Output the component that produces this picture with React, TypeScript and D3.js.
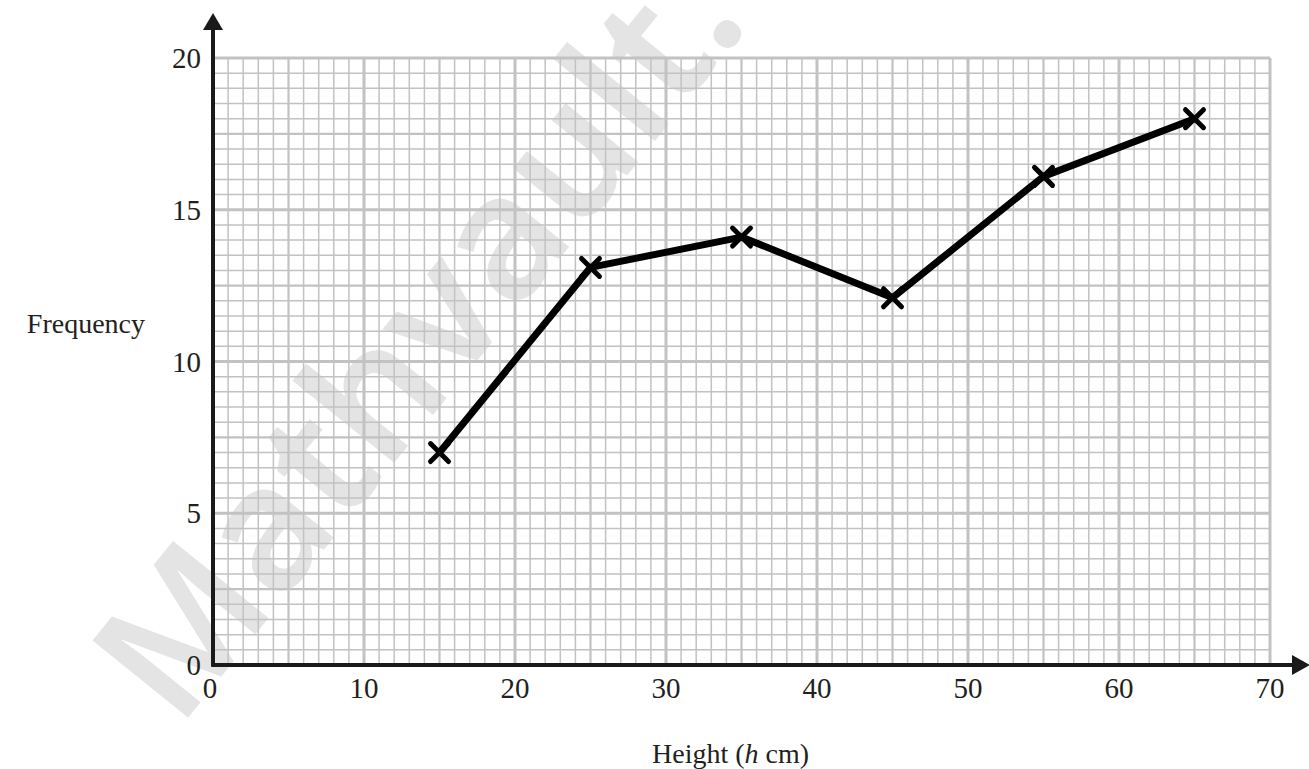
import React, { useEffect, useRef } from 'react';
import * as d3 from 'd3';

// polygon points: mid-height (cm) and frequency
const heights = [15, 25, 35, 45, 55, 65];
const frequencies = [7, 13.1, 14.1, 12.1, 16.1, 18];

const xTicks = [0, 10, 20, 30, 40, 50, 60, 70];
const yTicks = [0, 5, 10, 15, 20];

const WIDTH = 1309;
const HEIGHT = 769;

const App: React.FC = () => {
  const svgRef = useRef<SVGSVGElement | null>(null);

  useEffect(() => {
    if (!svgRef.current) return;
    const svg = d3.select(svgRef.current);
    svg.selectAll('*').remove();

    const x = d3.scaleLinear().domain([0, 70]).range([213, 1270]);
    const y = d3.scaleLinear().domain([0, 20]).range([665, 58]);

    // watermark
    svg
      .append('text')
      .attr('transform', 'translate(178,730) rotate(-51)')
      .attr('font-family', 'Noto Sans, sans-serif')
      .attr('font-weight', 600)
      .attr('font-size', 172)
      .attr('fill', '#e4e4e4')
      .text('Mathvault.');

    const grid = svg.append('g').attr('stroke', '#c2c2c2').attr('fill', 'none');

    // vertical lines every 1 cm
    d3.range(0, 71, 1).forEach((v) => {
      const w = v % 10 === 0 ? 3 : v % 5 === 0 ? 2.2 : 1.5;
      grid.append('line').attr('x1', x(v)).attr('x2', x(v)).attr('y1', y(0)).attr('y2', y(20)).attr('stroke-width', w);
    });
    // horizontal lines every 0.5
    d3.range(0, 41, 1).forEach((k) => {
      const v = k / 2;
      const w = k % 10 === 0 ? 3 : k % 5 === 0 ? 2.2 : 1.5;
      grid.append('line').attr('x1', x(0)).attr('x2', x(70)).attr('y1', y(v)).attr('y2', y(v)).attr('stroke-width', w);
    });

    // axes with arrows
    const axis = svg.append('g');
    axis.append('line').attr('x1', x(0)).attr('x2', x(0)).attr('y1', y(0) + 1.5).attr('y2', 28).attr('stroke', '#1a1a1a').attr('stroke-width', 4);
    axis.append('path').attr('d', `M${x(0)},13 L${x(0) - 10},30 L${x(0) + 10},30 Z`).attr('fill', '#1a1a1a');
    axis.append('line').attr('x1', x(0) - 1.5).attr('x2', 1294).attr('y1', y(0)).attr('y2', y(0)).attr('stroke', '#1a1a1a').attr('stroke-width', 4);
    axis.append('path').attr('d', `M1310,${y(0)} L1292,${y(0) - 10} L1292,${y(0) + 10} Z`).attr('fill', '#1a1a1a');

    const font = "'Liberation Serif', 'Times New Roman', serif";

    svg
      .append('g')
      .selectAll('text')
      .data(xTicks)
      .enter()
      .append('text')
      .attr('x', (d) => x(d) - (d === 0 ? 3 : 0))
      .attr('y', 698)
      .attr('text-anchor', 'middle')
      .attr('font-family', font)
      .attr('font-size', 29)
      .attr('fill', '#231f20')
      .text((d) => d);

    svg
      .append('g')
      .selectAll('text')
      .data(yTicks)
      .enter()
      .append('text')
      .attr('x', 201)
      .attr('y', (d) => y(d) + 10)
      .attr('text-anchor', 'end')
      .attr('font-family', font)
      .attr('font-size', 29)
      .attr('fill', '#231f20')
      .text((d) => d);

    svg
      .append('text')
      .attr('x', 145)
      .attr('y', 333)
      .attr('text-anchor', 'end')
      .attr('font-family', font)
      .attr('font-size', 28)
      .attr('fill', '#231f20')
      .text('Frequency');

    const xl = svg
      .append('text')
      .attr('x', 652)
      .attr('y', 763)
      .attr('font-family', font)
      .attr('font-size', 28)
      .attr('fill', '#231f20');
    xl.append('tspan').text('Height (');
    xl.append('tspan').attr('font-style', 'italic').text('h');
    xl.append('tspan').text(' cm)');

    // frequency polygon
    const pts: [number, number][] = heights.map((h, i) => [h, frequencies[i]]);
    const line = d3
      .line<[number, number]>()
      .x((d) => x(d[0]))
      .y((d) => y(d[1]));
    svg
      .append('path')
      .attr('d', line(pts))
      .attr('fill', 'none')
      .attr('stroke', '#000')
      .attr('stroke-width', 7)
      .attr('stroke-linejoin', 'round');

    const s = 9;
    const marks = svg.append('g').attr('stroke', '#000').attr('stroke-width', 5).attr('stroke-linecap', 'round');
    pts.forEach((d) => {
      const cx = x(d[0]);
      const cy = y(d[1]);
      marks.append('line').attr('x1', cx - s).attr('y1', cy - s).attr('x2', cx + s).attr('y2', cy + s);
      marks.append('line').attr('x1', cx - s).attr('y1', cy + s).attr('x2', cx + s).attr('y2', cy - s);
    });
  }, []);

  return (
    <svg
      ref={svgRef}
      width={WIDTH}
      height={HEIGHT}
      style={{ position: 'absolute', left: 0, top: 0, background: '#fff' }}
    ></svg>
  );
};

export default App;
